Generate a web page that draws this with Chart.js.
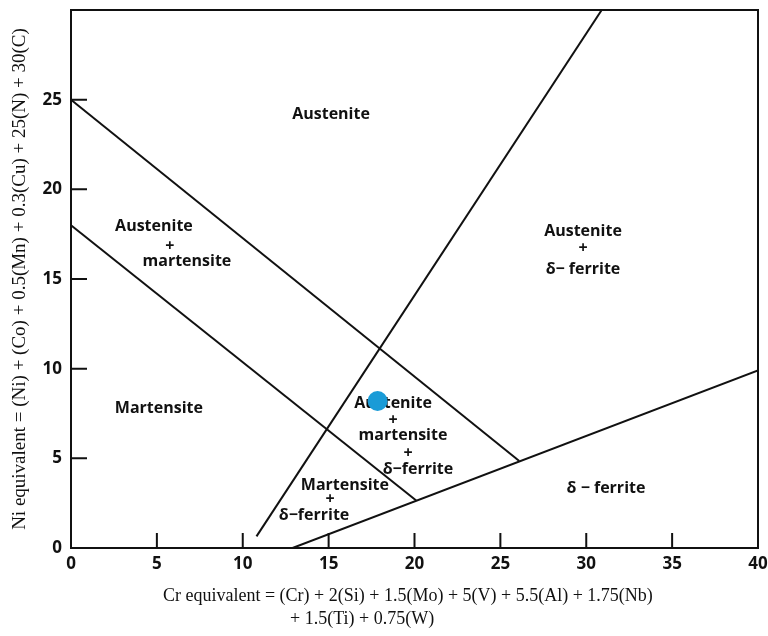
<!DOCTYPE html>
<html>
<head>
<meta charset="utf-8">
<script src="https://cdn.jsdelivr.net/npm/chart.js@4/dist/chart.umd.min.js"></script>
<style>
  html, body { margin: 0; padding: 0; background: #ffffff; }
  canvas { display: block; }
</style>
</head>
<body>
<canvas id="schaeffler" width="768" height="636"></canvas>
<script>
// Axis ticks
const xTickValues = [0, 5, 10, 15, 20, 25, 30, 35, 40];
const yTickValues = [0, 5, 10, 15, 20, 25];

// Phase boundaries (Cr equivalent, Ni equivalent)
const austeniteBoundary = [[0, 25], [26.1, 4.85]];
const martensiteBoundary = [[0, 18], [20.1, 2.65]];
const ferriteOnsetBoundary = [[10.8, 0.65], [30.9, 30]];
const ferriteBoundary = [[12.9, 0], [40, 9.9]];

// Alloy composition marker
const samplePoint = [[17.85, 8.2]];

// Phase field names and where each line of text sits (Cr eq, Ni eq)
const fieldTexts = [
  'Austenite',
  'Austenite', '+', 'martensite',
  'Martensite',
  'Austenite', '+', 'δ− ferrite',
  'Austenite', '+', 'martensite', '+', 'δ−ferrite',
  'Martensite', '+', 'δ−ferrite',
  'δ − ferrite'
];
const fieldAnchors = [
  [15.14, 24.18],
  [4.83, 17.91], [5.76, 16.8], [6.75, 15.97],
  [5.12, 7.76],
  [29.81, 17.64], [29.81, 16.69], [29.81, 15.53],
  [18.75, 8.04], [18.75, 7.1], [19.33, 6.27], [19.62, 5.27], [20.2, 4.38],
  [15.95, 3.49], [15.08, 2.72], [14.15, 1.83],
  [31.15, 3.33]
];

const xTitleLines = [
  'Cr equivalent = (Cr) + 2(Si) + 1.5(Mo) + 5(V) + 5.5(Al) + 1.75(Nb)',
  '+ 1.5(Ti) + 0.75(W)'
];
const yTitle = 'Ni equivalent = (Ni) + (Co) + 0.5(Mn) + 0.3(Cu) + 25(N) + 30(C)';

const toPoints = arr => arr.map(([x, y]) => ({ x, y }));
const INK = '#111111';
const SANS = '"Open Sans", "DejaVu Sans", sans-serif';
const SERIF = '"Liberation Serif", "DejaVu Serif", serif';

function boundary(points) {
  return {
    data: toPoints(points),
    showLine: true,
    borderColor: INK,
    borderWidth: 2,
    pointRadius: 0,
    fill: false,
    tension: 0
  };
}

// Axis boxes keep a fixed size and add no extra edge padding
function fixBox(size, horizontal) {
  return s => {
    if (horizontal) { s.height = size; s.paddingLeft = 0; s.paddingRight = 0; }
    else { s.width = size; s.paddingTop = 0; s.paddingBottom = 0; }
  };
}

const diagramDecor = {
  id: 'diagramDecor',
  beforeDatasetsDraw(chart) {
    const { ctx, scales: { x, y } } = chart;
    ctx.save();
    ctx.fillStyle = INK;
    ctx.font = '700 16px ' + SANS;
    ctx.textAlign = 'center';
    ctx.textBaseline = 'middle';
    fieldTexts.forEach((t, i) => {
      const [cx, cy] = fieldAnchors[i];
      ctx.fillText(t, x.getPixelForValue(cx), y.getPixelForValue(cy));
    });
    ctx.restore();
  },
  afterDatasetsDraw(chart) {
    const { ctx, chartArea: a, scales: { x, y } } = chart;
    ctx.save();
    ctx.strokeStyle = INK;
    ctx.lineWidth = 2;
    ctx.strokeRect(a.left, a.top, a.right - a.left, a.bottom - a.top);
    ctx.beginPath();
    yTickValues.forEach(v => {
      if (v === 0) return;
      const py = y.getPixelForValue(v);
      ctx.moveTo(a.left, py);
      ctx.lineTo(a.left + 16, py);
    });
    xTickValues.forEach(v => {
      if (v === 0 || v === 40) return;
      const px = x.getPixelForValue(v);
      ctx.moveTo(px, a.bottom);
      ctx.lineTo(px, a.bottom - 15);
    });
    ctx.stroke();
    ctx.restore();
  },
  afterDraw(chart) {
    const { ctx } = chart;
    ctx.save();
    ctx.fillStyle = INK;
    ctx.font = '18px ' + SERIF;
    ctx.textAlign = 'left';
    ctx.textBaseline = 'middle';
    ctx.fillText(xTitleLines[0], 163, 596, 537);
    ctx.fillText(xTitleLines[1], 290, 619, 157);
    ctx.restore();
  }
};

new Chart(document.getElementById('schaeffler'), {
  type: 'scatter',
  data: {
    datasets: [
      boundary(austeniteBoundary),
      boundary(martensiteBoundary),
      boundary(ferriteOnsetBoundary),
      boundary(ferriteBoundary),
      {
        data: toPoints(samplePoint),
        pointRadius: 10,
        pointHoverRadius: 10,
        backgroundColor: '#1a9bd7',
        borderWidth: 0,
        showLine: false
      }
    ]
  },
  options: {
    responsive: false,
    animation: false,
    layout: { padding: { left: 0, top: 7, right: 10, bottom: 0 } },
    plugins: { legend: { display: false }, tooltip: { enabled: false } },
    scales: {
      x: {
        type: 'linear',
        min: 0, max: 40,
        afterBuildTicks: s => { s.ticks = xTickValues.map(v => ({ value: v })); },
        afterFit: fixBox(88, true),
        grid: { display: false, drawTicks: false },
        border: { display: false },
        ticks: { color: INK, padding: 6, maxRotation: 0, font: { family: SANS, size: 17, weight: '700' } }
      },
      y: {
        type: 'linear',
        min: 0, max: 30,
        afterBuildTicks: s => { s.ticks = yTickValues.map(v => ({ value: v })); },
        afterFit: fixBox(71, false),
        grid: { display: false, drawTicks: false },
        border: { display: false },
        ticks: { color: INK, padding: 9, font: { family: SANS, size: 17, weight: '700' } },
        title: {
          display: true,
          text: yTitle,
          color: INK,
          padding: { top: 9, bottom: 0 },
          font: { family: SERIF, size: 19 }
        }
      }
    }
  },
  plugins: [diagramDecor]
});
</script>
</body>
</html>
